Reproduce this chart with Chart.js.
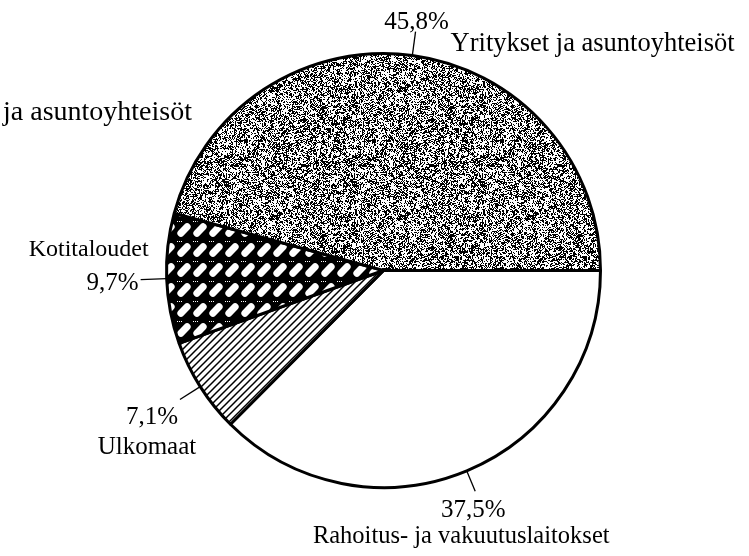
<!DOCTYPE html>
<html>
<head>
<meta charset="utf-8">
<script src="https://cdn.jsdelivr.net/npm/chart.js@4.4.1/dist/chart.umd.min.js"></script>
<style>
  html, body { margin: 0; padding: 0; background: #fff; }
  #wrap { width: 749px; height: 556px; }
</style>
</head>
<body>
<div id="wrap"><canvas id="pie-chart" width="749" height="556"></canvas></div>
<script>
// data, in drawing order (clockwise from 3 o'clock)
const categories = ['Rahoitus- ja vakuutuslaitokset', 'Ulkomaat', 'Kotitaloudet', 'Yritykset ja asuntoyhteisöt'];
const shares = [37.5, 7.1, 9.7, 45.8];
// clipped label fragment at the left edge of the scan
const strayLabel = 'ja asuntoyhteisöt';

function fmtPct(v){
    return v.toFixed(1).replace('.', ',') + '%';
}

// fill patterns
function makeTile(w, h, draw){
    const c = document.createElement('canvas');
    c.width = w; c.height = h;
    const g = c.getContext('2d');
    draw(g, w, h);
    return document.createElement('canvas').getContext('2d').createPattern(c, 'repeat');
}

function noise(i){
    const x = Math.sin(i * 12.9898 + 78.233) * 43758.5453;
    return x - Math.floor(x);
}

const stipple = makeTile(128, 128, (g, w, h) => {
    g.fillStyle = '#fff';
    g.fillRect(0, 0, w, h);
    const img = g.getImageData(0, 0, w, h);
    for(let y = 0; y < h; y++){
        for(let x = 0; x < w; x++){
            const n = noise(x * 131 + y * 7919);
            const clump = noise(Math.floor(x / 3) * 17 + Math.floor(y / 3) * 311);
            if(n * 0.65 + clump * 0.35 < 0.47){
                const k = (y * w + x) * 4;
                img.data[k] = img.data[k + 1] = img.data[k + 2] = 0;
            }
        }
    }
    g.putImageData(img, 0, 0);
});

const bricks = makeTile(16, 20, (g, w, h) => {
    g.fillStyle = '#000';
    g.fillRect(0, 0, w, h);
    g.fillStyle = '#fff';
    g.save();
    g.translate(w / 2, h / 2);
    g.rotate(-0.8);
    g.beginPath();
    g.roundRect(-8, -3.5, 16, 7, 3.5);
    g.fill();
    g.restore();
    // dotted seams
    for(let i = 0; i < 3; i++){
        g.fillRect(1 + i * 2, 1, 1, 1);
    }
});

const hatch = makeTile(7, 7, (g, s) => {
    g.fillStyle = '#fff';
    g.fillRect(0, 0, s, s);
    g.strokeStyle = '#000';
    g.lineWidth = 1.5;
    g.beginPath();
    g.moveTo(0, s); g.lineTo(s, 0);
    g.moveTo(-1, 1); g.lineTo(1, -1);
    g.moveTo(s - 1, s + 1); g.lineTo(s + 1, s - 1);
    g.stroke();
});

const fills = ['#ffffff', hatch, bricks, stipple];

// label placement relative to the end of each leader line
// [leader length, pct dx, pct dy, pct align, name dx, name dy, name align, name font size]
const labelPos = [
    [22, -2, 26, 'center', -14, 52, 'center', 24.5],
    [24, -28, 24, 'center', -33, 54, 'center', 25],
    [26, -2, 10, 'right', 8, -24, 'right', 24],
    [24, 1, -3, 'center', 35, 19, 'left', 26.5]
];

const serif = '"Liberation Serif", "Times New Roman", serif';

const sliceLabels = {
    id: 'sliceLabels',
    afterDatasetsDraw(chart){
        const ctx = chart.ctx;
        const arcs = chart.getDatasetMeta(0).data;
        ctx.save();
        ctx.fillStyle = '#000';
        ctx.strokeStyle = '#000';
        ctx.lineWidth = 1.3;
        ctx.textBaseline = 'alphabetic';
        arcs.forEach((arc, i) => {
            const p = arc.getProps(['x', 'y', 'startAngle', 'endAngle', 'outerRadius'], true);
            const mid = (p.startAngle + p.endAngle) / 2;
            const s = labelPos[i];
            const x0 = p.x + Math.cos(mid) * p.outerRadius;
            const y0 = p.y + Math.sin(mid) * p.outerRadius;
            const x1 = p.x + Math.cos(mid) * (p.outerRadius + s[0]);
            const y1 = p.y + Math.sin(mid) * (p.outerRadius + s[0]);
            ctx.beginPath();
            ctx.moveTo(x0, y0);
            ctx.lineTo(x1, y1);
            ctx.stroke();
            ctx.font = '25px ' + serif;
            ctx.textAlign = s[3];
            ctx.fillText(fmtPct(shares[i]), x1 + s[1], y1 + s[2]);
            ctx.font = s[7] + 'px ' + serif;
            ctx.textAlign = s[6];
            ctx.fillText(categories[i], x1 + s[4], y1 + s[5]);
        });
        ctx.font = '28px ' + serif;
        ctx.textAlign = 'left';
        ctx.fillText(strayLabel, 3, 120);
        ctx.restore();
    }
};

const ctx = document.getElementById('pie-chart');

new Chart(ctx, {
    type: 'pie',
    data: {
        labels: categories,
        datasets: [{
            data: shares,
            backgroundColor: fills,
            borderColor: '#000',
            borderWidth: 3
        }]
    },
    options: {
        responsive: false,
        animation: false,
        rotation: 90,
        layout: {
            padding: { left: 165, right: 147, top: 52, bottom: 67 }
        },
        plugins: {
            legend: { display: false },
            tooltip: { enabled: false }
        }
    },
    plugins: [sliceLabels]
});
</script>
</body>
</html>
